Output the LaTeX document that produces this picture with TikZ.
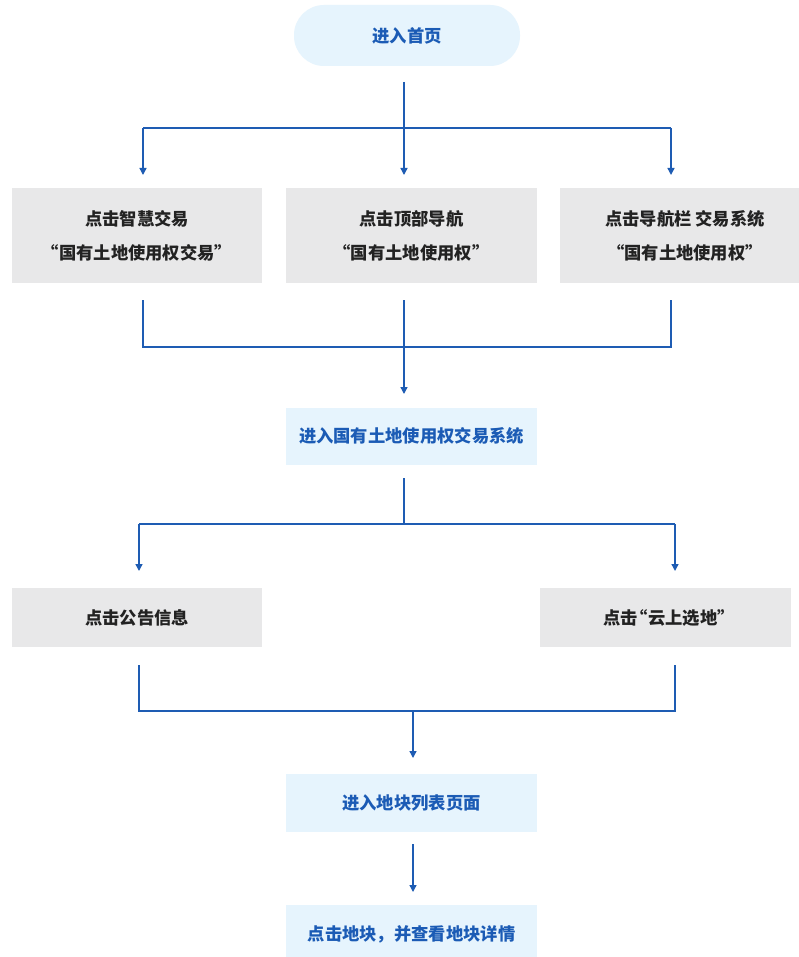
\documentclass[tikz,border=0pt]{standalone}
\usepackage{fontspec}
\newfontfamily\cjk{Noto Sans CJK SC}
\usetikzlibrary{arrows.meta}
\definecolor{lineblue}{HTML}{1E5CB3}
\definecolor{textblue}{HTML}{1B5BB5}
\definecolor{paleblue}{HTML}{E6F4FD}
\definecolor{boxgray}{HTML}{E8E8E9}
\definecolor{textdark}{HTML}{222222}
\begin{document}
\begin{tikzpicture}[x=1pt,y=-1pt,
  graybox/.style={fill=boxgray, draw=none, inner sep=0pt, minimum width=251pt, align=center,
    font=\cjk\bfseries\fontsize{17.3}{34}\selectfont, text=textdark},
  bluebox/.style={fill=paleblue, draw=none, inner sep=0pt, minimum width=251pt, align=center,
    font=\cjk\bfseries\fontsize{17.3}{34}\selectfont, text=textblue},
  ln/.style={draw=lineblue, line width=1.4pt},
  arr/.style={ln, -{Triangle[width=7pt,length=7pt]}}]
\useasboundingbox (0,0) rectangle (799,957);
\fill[white] (0,0) rectangle (799,957);

% nodes
\node[bluebox, minimum width=226pt, minimum height=61pt, rounded corners=30pt] (start) at (407,35.5) {进入首页};
\node[graybox, minimum width=250pt, minimum height=95pt] (b1) at (137,235.5) {点击智慧交易\\“国有土地使用权交易”};
\node[graybox, minimum height=95pt] (b2) at (411.5,235.5) {点击顶部导航\\“国有土地使用权”};
\node[graybox, minimum height=95pt] (b3) at (685,235.5) {点击导航栏 交易系统\\“国有土地使用权”};
\node[bluebox, minimum height=57pt] (sys) at (411.5,436) {进入国有土地使用权交易系统};
\node[graybox, minimum width=250pt, minimum height=59pt] (gg) at (137,617.5) {点击公告信息};
\node[graybox, minimum height=59pt] (yx) at (665.5,617.5) {点击\kern-7pt“云上选地”\kern-7pt};
\node[bluebox, minimum height=58pt] (list) at (411.5,803) {进入地块列表页面};
\node[bluebox, minimum height=58pt] (detail) at (411.5,934) {点击地块，并查看地块详情};

% junction coordinates
\coordinate (s0) at (404,82);
\coordinate (j1) at (404,128);
\coordinate (j1l) at (143,128);
\coordinate (j1r) at (671,128);
\coordinate (t1) at (143,175);
\coordinate (t2) at (404,175);
\coordinate (t3) at (671,175);
\coordinate (u1) at (143,300);
\coordinate (u2) at (404,300);
\coordinate (u3) at (671,300);
\coordinate (j2l) at (143,347);
\coordinate (j2) at (404,347);
\coordinate (j2r) at (671,347);
\coordinate (t4) at (404,394);
\coordinate (s1) at (404,478);
\coordinate (j3) at (404,524);
\coordinate (j3l) at (139,524);
\coordinate (j3r) at (675,524);
\coordinate (t5) at (139,571);
\coordinate (t6) at (675,571);
\coordinate (u4) at (139,665);
\coordinate (u5) at (675,665);
\coordinate (j4l) at (139,711);
\coordinate (j4) at (413,711);
\coordinate (j4r) at (675,711);
\coordinate (t7) at (413,758);
\coordinate (s2) at (413,844);
\coordinate (t8) at (413,892);

% connectors
\draw[ln] (s0) -- (j1);
\draw[ln] (j1l) -- (j1r);
\draw[arr] (j1l) -- (t1);
\draw[arr] (j1) -- (t2);
\draw[arr] (j1r) -- (t3);

\draw[ln] (u1) -- (j2l) -- (j2r) -- (u3);
\draw[ln] (u2) -- (j2);
\draw[arr] (j2) -- (t4);

\draw[ln] (s1) -- (j3);
\draw[ln] (j3l) -- (j3r);
\draw[arr] (j3l) -- (t5);
\draw[arr] (j3r) -- (t6);

\draw[ln] (u4) -- (j4l) -- (j4r) -- (u5);
\draw[arr] (j4) -- (t7);
\draw[arr] (s2) -- (t8);
\end{tikzpicture}
\end{document}
